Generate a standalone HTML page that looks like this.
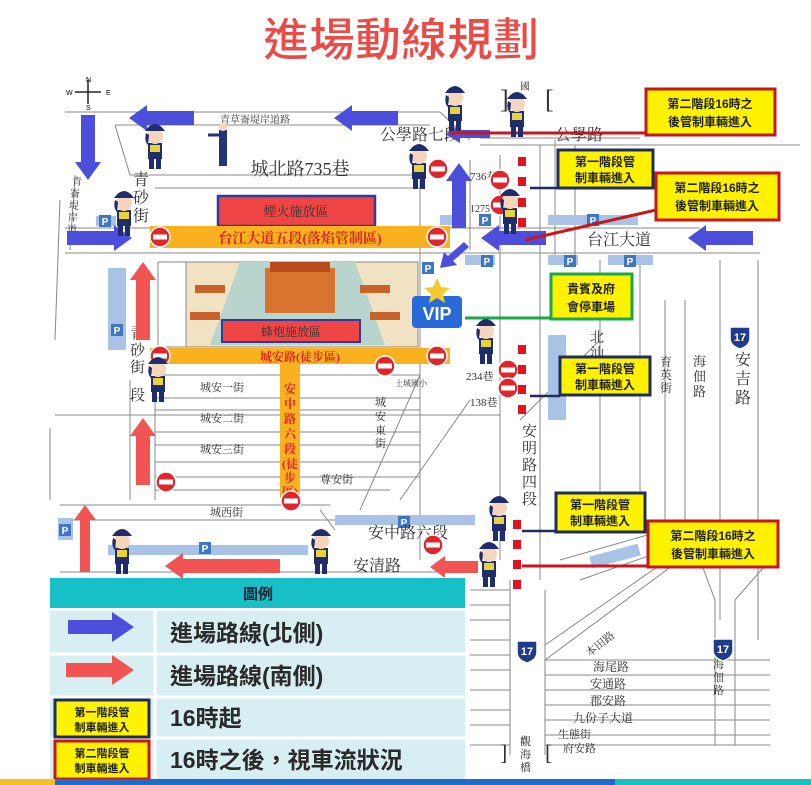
<!DOCTYPE html>
<html><head><meta charset="utf-8"><style>
html,body{margin:0;padding:0;background:#fff;}
svg{display:block;font-family:"Liberation Sans","Noto Sans CJK TC",sans-serif;}
.rd{font-family:"Liberation Serif","Noto Serif CJK SC",serif;fill:#333;}
</style></head><body>
<svg width="811" height="785" viewBox="0 0 811 785" xmlns="http://www.w3.org/2000/svg">
<defs>
<g id="cop">
 <rect x="-7" y="18" width="14" height="16" fill="#1f2d6b"/>
 <rect x="-5" y="20" width="10" height="7" fill="#e8d43a"/>
 <rect x="-6" y="34" width="5" height="10" fill="#1f2d6b"/>
 <rect x="1" y="34" width="5" height="10" fill="#1f2d6b"/>
 <circle cx="0" cy="11" r="8" fill="#f6d5bd"/>
 <path d="M-10 6 Q0 -8 10 6 Z" fill="#1f2d6b"/>
 <path d="M-9 8 Q-11 16 -7 20 L-6 10 Z" fill="#1f2d6b"/>
</g>
<g id="ne"><circle r="10" fill="#e0262c" stroke="#fff" stroke-width="1.5"/><rect x="-7" y="-2.5" width="14" height="5" fill="#fff"/></g>
<g id="pk"><rect x="-6" y="-6" width="12" height="12" fill="#3e77c6"/><text x="0" y="4" font-size="10" fill="#fff" text-anchor="middle" font-weight="bold">P</text></g>
<g id="r17"><path d="M-10 -9 H10 V2 Q10 10 0 13 Q-10 10 -10 2 Z" fill="#1f3b8a" stroke="#fff" stroke-width="1.5"/><text x="0" y="5" font-size="11" fill="#fff" text-anchor="middle" font-weight="bold">17</text></g>
</defs>

<!-- title -->
<text x="401" y="56" font-size="46" font-weight="bold" fill="#ec4a45" text-anchor="middle" stroke="#fff" stroke-width="1">進場動線規劃</text>

<!-- compass -->
<g stroke="#222" stroke-width="1.5"><line x1="88" y1="80" x2="88" y2="104"/><line x1="75" y1="92" x2="101" y2="92"/></g>
<text x="86" y="82" font-size="7">N</text><text x="66" y="95" font-size="7">W</text><text x="106" y="95" font-size="7">E</text><text x="86" y="110" font-size="7">S</text>

<!-- road lines -->
<g stroke="#888" stroke-width="1" fill="none">
 <path d="M65 112 H440 M115 125 H430 M440 112 L470 140"/>
 <path d="M115 125 L130 175 H420 M155 188 H420"/>
 <path d="M60 200 L55 340 M75 175 L70 250"/>
 <path d="M65 228 H700 M65 253 H760 M480 145 H800 M480 138 L640 138"/>
 <path d="M420 175 V560 M470 160 V250 M500 155 V560 M540 145 V580 M555 140 V260 M575 145 V260 M600 260 V520 M640 260 V520 M665 300 V520 M685 300 V520 M720 260 V620 M758 260 V640"/>
 <path d="M55 415 H500 M50 428 V500 M130 380 V500 M155 375 V500 M155 375 H420 M155 398 H420 M155 410 H420 M155 432 H420 M155 445 H420 M155 462 H420 M155 477 H420 M155 490 H390 M420 375 L360 510"/>
 <path d="M60 505 H330 M60 520 L400 520 M60 572 H470 M320 510 L335 530 M400 500 L470 400 M520 420 L600 340"/>
 <path d="M470 590 H510 M470 605 H510 M470 620 H510 M470 640 H510 M470 655 H510 M470 670 H510 M470 690 H510 M470 710 H510 M470 725 H510 M470 745 H510 M510 580 V755 M545 590 V755 M545 660 L680 560 M545 645 L660 565"/>
 <path d="M545 660 H770 M545 675 H770 M545 690 H770 M545 705 H770 M545 720 H770 M545 735 H770 M545 745 H770 M715 600 V745 M735 600 V745 M700 560 L715 600 M770 560 L735 600"/>
 <path d="M560 560 L700 520 M580 580 L680 545"/>
</g>

<!-- light blue strips -->
<g fill="#a9c3e6">
 <rect x="108" y="268" width="18" height="82"/>
 <rect x="96" y="216" width="20" height="10"/>
 <rect x="440" y="215" width="25" height="10"/><rect x="548" y="215" width="90" height="10"/>
 <rect x="465" y="255" width="30" height="10"/><rect x="548" y="255" width="30" height="10"/><rect x="608" y="255" width="45" height="10"/>
 <rect x="548" y="335" width="18" height="85"/>
 <rect x="335" y="515" width="140" height="10"/>
 <rect x="108" y="545" width="200" height="10"/>
 <rect x="58" y="518" width="15" height="22"/>
 <rect x="590" y="550" width="50" height="12" transform="rotate(-15 615 556)"/>
</g>
<use href="#pk" x="105" y="221"/><use href="#pk" x="485" y="220"/><use href="#pk" x="593" y="220"/>
<use href="#pk" x="487" y="261"/><use href="#pk" x="570" y="261"/><use href="#pk" x="630" y="261"/>
<use href="#pk" x="117" y="330"/><use href="#pk" x="404" y="522"/><use href="#pk" x="205" y="548"/><use href="#pk" x="65" y="530"/>
<use href="#pk" x="428" y="268"/>

<!-- red box fireworks -->
<rect x="218" y="196" width="157" height="30" fill="#f04545" stroke="#2f3a99" stroke-width="2.5"/>
<text x="296" y="216" class="rd" font-size="13" text-anchor="middle" fill="#222">煙火施放區</text>

<!-- orange bands -->
<rect x="150" y="226" width="300" height="22" fill="#f9b21d"/>
<text x="300" y="243" font-size="14" font-weight="bold" fill="#d22" text-anchor="middle" class="rd" style="fill:#d22">台江大道五段(落焰管制區)</text>

<!-- palace -->
<rect x="158" y="262" width="260" height="85" fill="#f1e2c4" stroke="#888"/>
<rect x="158" y="262" width="28" height="85" fill="#fff" stroke="#888"/>
<polygon points="240,262 355,262 385,345 210,345" fill="#b9d4cc"/>
<rect x="265" y="268" width="70" height="45" fill="#d8742f"/>
<rect x="270" y="262" width="60" height="10" fill="#b94c1f"/>
<rect x="195" y="285" width="30" height="8" fill="#c9622a"/><rect x="360" y="285" width="30" height="8" fill="#c9622a"/>
<rect x="190" y="312" width="30" height="8" fill="#c9622a"/><rect x="370" y="312" width="30" height="8" fill="#c9622a"/>
<rect x="222" y="320" width="138" height="22" fill="#f04545" stroke="#2f3a99" stroke-width="2"/>
<text x="291" y="336" class="rd" font-size="12" text-anchor="middle" fill="#222">蜂炮施放區</text>

<rect x="150" y="348" width="300" height="16" fill="#f9b21d"/>
<text x="300" y="361" font-size="12" font-weight="bold" text-anchor="middle" class="rd" style="fill:#d22">城安路(徒步區)</text>
<rect x="280" y="364" width="20" height="134" fill="#f9b21d"/>
<text font-size="12" font-weight="bold" class="rd" style="fill:#d22" text-anchor="middle">
 <tspan x="290" y="393">安</tspan><tspan x="290" y="408">中</tspan><tspan x="290" y="423">路</tspan><tspan x="290" y="438">六</tspan><tspan x="290" y="453">段</tspan><tspan x="290" y="468">(徒</tspan><tspan x="290" y="482">步</tspan><tspan x="290" y="496">區)</tspan></text>

<!-- road labels -->
<g class="rd">
<text x="255" y="123" font-size="10" text-anchor="middle">青草崙堤岸道路</text>
<text x="300" y="175" font-size="18" text-anchor="middle">城北路735巷</text>
<text x="380" y="140" font-size="16">公學路七段</text>
<text x="555" y="140" font-size="16">公學路</text>
<text x="587" y="245" font-size="16">台江大道</text>
<text x="470" y="180" font-size="11">736巷</text>
<text x="470" y="212" font-size="10">1275巷</text>
<text x="133" y="185" font-size="16">青</text><text x="133" y="203" font-size="16">砂</text><text x="133" y="221" font-size="16">街</text>
<text x="72" y="185" font-size="10">青</text><text x="70" y="197" font-size="10">崙</text><text x="69" y="209" font-size="10">堤</text><text x="68" y="221" font-size="10">岸</text><text x="67" y="233" font-size="10">道</text>
<text x="130" y="338" font-size="15">青</text><text x="130" y="355" font-size="15">砂</text><text x="130" y="372" font-size="15">街</text><text x="130" y="400" font-size="15">段</text>
<text x="200" y="391" font-size="11">城安一街</text>
<text x="200" y="422" font-size="11">城安二街</text>
<text x="200" y="453" font-size="11">城安三街</text>
<text x="210" y="516" font-size="11">城西街</text>
<text x="320" y="483" font-size="11">尊安街</text>
<text x="375" y="406" font-size="11">城</text><text x="375" y="420" font-size="11">安</text><text x="375" y="434" font-size="11">東</text><text x="375" y="447" font-size="11">街</text>
<text x="395" y="386" font-size="8">土城國小</text>
<text x="466" y="380" font-size="11">234巷</text>
<text x="470" y="406" font-size="11">138巷</text>
<text x="522" y="436" font-size="15">安</text><text x="522" y="453" font-size="15">明</text><text x="522" y="470" font-size="15">路</text><text x="522" y="487" font-size="15">四</text><text x="522" y="504" font-size="15">段</text>
<text x="368" y="538" font-size="16">安中路六段</text>
<text x="353" y="571" font-size="16">安清路</text>
<text x="590" y="342" font-size="14">北</text><text x="590" y="358" font-size="14">汕</text>
<text x="660" y="366" font-size="12">育</text><text x="660" y="379" font-size="12">英</text><text x="660" y="392" font-size="12">街</text>
<text x="693" y="366" font-size="13">海</text><text x="693" y="381" font-size="13">佃</text><text x="693" y="396" font-size="13">路</text>
<text x="735" y="365" font-size="16">安</text><text x="735" y="384" font-size="16">吉</text><text x="735" y="403" font-size="16">路</text>
<text x="580" y="650" font-size="11" transform="rotate(-38 595 640)">本田路</text>
<text x="593" y="671" font-size="12">海尾路</text>
<text x="590" y="688" font-size="12">安通路</text>
<text x="590" y="705" font-size="12">郡安路</text>
<text x="573" y="722" font-size="12">九份子大道</text>
<text x="558" y="738" font-size="11">生態街</text>
<text x="563" y="752" font-size="11">府安路</text>
<text x="520" y="745" font-size="11">觀</text><text x="520" y="758" font-size="11">海</text><text x="520" y="771" font-size="11">橋</text>
<text x="713" y="668" font-size="11">海</text><text x="713" y="681" font-size="11">佃</text><text x="713" y="694" font-size="11">路</text>
<text x="520" y="90" font-size="10">國</text>
<text x="500" y="108" font-size="26">]</text><text x="545" y="108" font-size="26">[</text>
<text x="500" y="760" font-size="22">]</text><text x="545" y="760" font-size="22">[</text>
</g>
<use href="#r17" x="740" y="336"/><use href="#r17" x="527" y="650"/><use href="#r17" x="723" y="648"/>

<!-- blue arrows -->
<g fill="#4b4fdc">
<polygon points="129,118 147,105 147,111 194,111 194,125 147,125 147,131"/>
<polygon points="334,118 352,105 352,111 398,111 398,125 352,125 352,131"/>
<polygon points="81,115 95,115 95,162 101,162 88,180 75,162 81,162"/>
<polygon points="67,231 114,231 114,225 132,238 114,251 114,245 67,245"/>
<polygon points="481,238 499,225 499,231 546,231 546,245 499,245 499,251"/>
<polygon points="688,238 706,225 706,231 753,231 753,245 706,245 706,251"/>
<polygon points="459,163 472,181 466,181 466,228 452,228 452,181 446,181"/>
<polygon points="445,134 460,125 460,130 490,130 490,138 460,138 460,143"/>
<polygon points="440,268 444,252 448,256 464,242 469,247 453,261 457,265"/>
</g>
<!-- red arrows -->
<g fill="#f25454">
<polygon points="143,262 156,280 150,280 150,340 136,340 136,280 130,280"/>
<polygon points="143,418 156,436 150,436 150,485 136,485 136,436 130,436"/>
<polygon points="85,505 96,520 90,520 90,572 80,572 80,520 74,520"/>
<polygon points="165,566 183,553 183,559 280,559 280,573 183,573 183,579"/>
<polygon points="430,567 445,556 445,561 478,561 478,573 445,573 445,578"/>
</g>

<!-- no entry -->
<use href="#ne" x="160" y="237"/><use href="#ne" x="437" y="237"/><use href="#ne" x="160" y="356"/><use href="#ne" x="437" y="356"/>
<use href="#ne" x="385" y="366"/><use href="#ne" x="291" y="501"/><use href="#ne" x="166" y="482"/><use href="#ne" x="433" y="545"/>
<use href="#ne" x="438" y="169"/><use href="#ne" x="500" y="180"/><use href="#ne" x="500" y="205"/><use href="#ne" x="508" y="370"/><use href="#ne" x="508" y="388"/>

<!-- red dashes -->
<g fill="#e0141c">
<rect x="518" y="157" width="8" height="9"/><rect x="518" y="177" width="8" height="9"/><rect x="518" y="198" width="8" height="9"/><rect x="518" y="218" width="8" height="9"/>
<rect x="518" y="345" width="8" height="9"/><rect x="518" y="365" width="8" height="9"/><rect x="518" y="385" width="8" height="9"/><rect x="518" y="405" width="8" height="9"/>
<rect x="513" y="520" width="8" height="9"/><rect x="513" y="540" width="8" height="9"/><rect x="513" y="560" width="8" height="9"/><rect x="513" y="580" width="8" height="9"/>
</g>

<!-- connectors -->
<line x1="450" y1="133" x2="646" y2="133" stroke="#c8161d" stroke-width="3"/>
<line x1="530" y1="188" x2="558" y2="188" stroke="#1f2d5c" stroke-width="2.5"/>
<line x1="525" y1="240" x2="656" y2="210" stroke="#c8161d" stroke-width="3"/>
<line x1="465" y1="318" x2="551" y2="318" stroke="#17a84a" stroke-width="3"/>
<line x1="530" y1="396" x2="560" y2="396" stroke="#1f2d5c" stroke-width="2.5"/>
<line x1="522" y1="531" x2="556" y2="531" stroke="#1f2d5c" stroke-width="2.5"/>
<line x1="522" y1="566" x2="647" y2="566" stroke="#c8161d" stroke-width="3"/>

<!-- callout boxes -->
<g font-size="12" font-weight="bold" fill="#222" text-anchor="middle">
<rect x="646" y="89" width="129" height="46" fill="#fff200" stroke="#c8161d" stroke-width="3"/>
<text x="710" y="108">第二階段16時之</text><text x="710" y="126">後管制車輛進入</text>
<rect x="558" y="150" width="95" height="38" fill="#fff200" stroke="#1f2d5c" stroke-width="3"/>
<text x="605" y="166">第一階段管</text><text x="605" y="182">制車輛進入</text>
<rect x="656" y="173" width="123" height="47" fill="#fff200" stroke="#c8161d" stroke-width="3"/>
<text x="717" y="192">第二階段16時之</text><text x="717" y="210">後管制車輛進入</text>
<rect x="551" y="274" width="81" height="45" fill="#fff200" stroke="#17a84a" stroke-width="3"/>
<text x="591" y="293">貴賓及府</text><text x="591" y="311">會停車場</text>
<rect x="560" y="357" width="90" height="38" fill="#fff200" stroke="#1f2d5c" stroke-width="3"/>
<text x="605" y="373">第一階段管</text><text x="605" y="389">制車輛進入</text>
<rect x="556" y="493" width="89" height="39" fill="#fff200" stroke="#1f2d5c" stroke-width="3"/>
<text x="600" y="509">第一階段管</text><text x="600" y="525">制車輛進入</text>
<rect x="648" y="521" width="130" height="46" fill="#fff200" stroke="#c8161d" stroke-width="3"/>
<text x="713" y="540">第二階段16時之</text><text x="713" y="558">後管制車輛進入</text>
</g>

<!-- VIP -->
<rect x="412" y="296" width="50" height="32" rx="4" fill="#2a6ad8"/>
<text x="437" y="320" font-size="18" font-weight="bold" fill="#fff" text-anchor="middle">VIP</text>
<polygon points="437,278 441,287 450,288 443,294 445,303 437,298 429,303 431,294 424,288 433,287" fill="#f5c930"/>

<!-- cops -->
<use href="#cop" x="455" y="87"/><use href="#cop" x="517" y="93"/><use href="#cop" x="155" y="125"/><use href="#cop" x="419" y="145"/>
<use href="#cop" x="124" y="192"/><use href="#cop" x="510" y="190"/><use href="#cop" x="486" y="320"/><use href="#cop" x="158" y="358"/>
<use href="#cop" x="499" y="497"/><use href="#cop" x="489" y="543"/><use href="#cop" x="122" y="530"/><use href="#cop" x="321" y="530"/>
<g><rect x="219" y="130" width="8" height="20" fill="#24327a"/><circle cx="223" cy="127" r="4" fill="#f6d5bd"/><rect x="219" y="150" width="8" height="16" fill="#24327a"/><line x1="219" y1="135" x2="208" y2="135" stroke="#24327a" stroke-width="3"/></g>

<!-- legend -->
<rect x="50" y="578" width="415" height="30" fill="#16c0c6"/>
<text x="258" y="599" font-size="15" font-weight="bold" fill="#123" text-anchor="middle">圖例</text>
<rect x="50" y="611" width="415" height="169" fill="#d7eef2"/>
<g stroke="#fff" stroke-width="3"><line x1="50" y1="654" x2="465" y2="654"/><line x1="50" y1="697" x2="465" y2="697"/><line x1="50" y1="738" x2="465" y2="738"/><line x1="155" y1="611" x2="155" y2="780"/></g>
<polygon points="68,620 112,620 112,612 134,627 112,642 112,634 68,634" fill="#4b4fdc"/>
<polygon points="66,663 112,663 112,655 134,670 112,685 112,677 66,677" fill="#f25454"/>
<rect x="55" y="700" width="94" height="37" fill="#fff200" stroke="#1f2d5c" stroke-width="3"/>
<rect x="55" y="741" width="94" height="38" fill="#fff200" stroke="#c8161d" stroke-width="3"/>
<g font-size="11" font-weight="bold" fill="#222" text-anchor="middle">
<text x="102" y="716">第一階段管</text><text x="102" y="731">制車輛進入</text>
<text x="102" y="757">第二階段管</text><text x="102" y="772">制車輛進入</text>
</g>
<g font-size="23" font-weight="bold" fill="#2a2a2a">
<text x="170" y="641">進場路線(北側)</text>
<text x="170" y="684">進場路線(南側)</text>
<text x="170" y="726">16時起</text>
<text x="170" y="768">16時之後，視車流狀況</text>
</g>

<!-- bottom stripe -->
<rect x="0" y="779" width="55" height="6" fill="#f5c12b"/>
<rect x="55" y="779" width="560" height="6" fill="#1f6cc8"/>
<rect x="615" y="779" width="196" height="6" fill="#17c1c1"/>
</svg>
</body></html>
